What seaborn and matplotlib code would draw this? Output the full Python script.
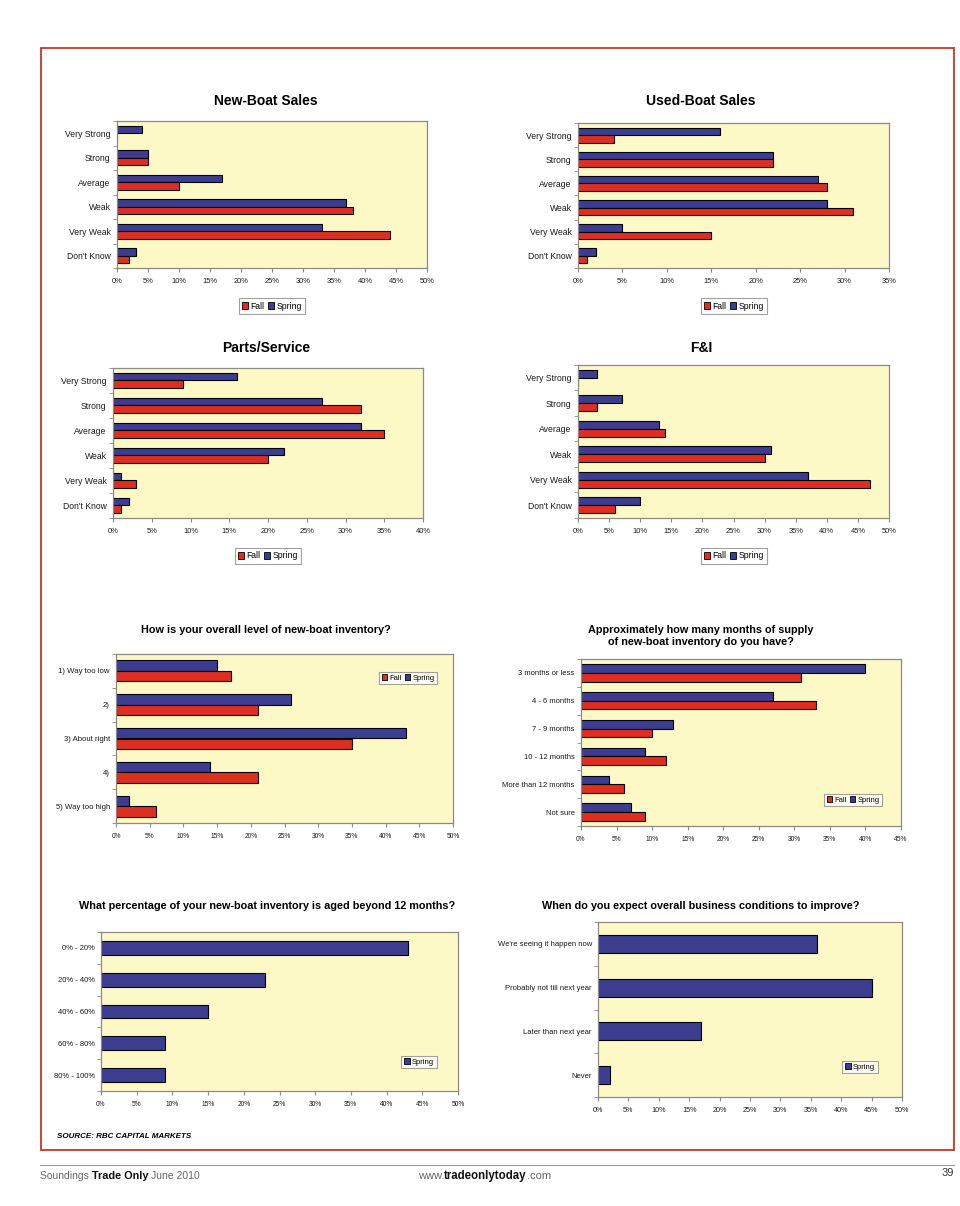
import numpy as np
import pandas as pd
import matplotlib.pyplot as plt
import seaborn as sns
from matplotlib.patches import Patch, Rectangle
from matplotlib.lines import Line2D

# ---- data ----
rating_cats = ["Very Strong", "Strong", "Average", "Weak", "Very Weak", "Don't Know"]

new_boat_spring = [4, 5, 17, 37, 33, 3]
new_boat_fall = [0, 5, 10, 38, 44, 2]

used_boat_spring = [16, 22, 27, 28, 5, 2]
used_boat_fall = [4, 22, 28, 31, 15, 1]

parts_spring = [16, 27, 32, 22, 1, 2]
parts_fall = [9, 32, 35, 20, 3, 1]

fi_spring = [3, 7, 13, 31, 37, 10]
fi_fall = [0, 3, 14, 30, 47, 6]

inv_level_cats = ["1) Way too low", "2)", "3) About right", "4)", "5) Way too high"]
inv_level_spring = [15, 26, 43, 14, 2]
inv_level_fall = [17, 21, 35, 21, 6]

supply_cats = ["3 months or less", "4 - 6 months", "7 - 9 months", "10 - 12 months",
               "More than 12 months", "Not sure"]
supply_spring = [40, 27, 13, 9, 4, 7]
supply_fall = [31, 33, 10, 12, 6, 9]

aged_cats = ["0% - 20%", "20% - 40%", "40% - 60%", "60% - 80%", "80% - 100%"]
aged_spring = [43, 23, 15, 9, 9]

improve_cats = ["We're seeing it happen now", "Probably not till next year",
                "Later than next year", "Never"]
improve_spring = [36, 45, 17, 2]

NAVY = "#3d3d8f"
RED = "#dd2e22"
PLOT_BG = "#fdf9c6"
SANS = ["Liberation Sans", "DejaVu Sans"]

W, H = 960, 1206
fig = plt.figure(figsize=(W / 100, H / 100), dpi=100)
fig.patch.set_facecolor("white")


def fx(x):
    return x / W


def fy(y):
    return 1 - y / H


def make_ax(x0, y0, x1, y1):
    return fig.add_axes([fx(x0), fy(y1), fx(x1) - fx(x0), (y1 - y0) / H])


def style_ax(ax, cats, xmax, ysize, xsize):
    ax.set_facecolor(PLOT_BG)
    for s in ax.spines.values():
        s.set_color("#8a8a8a")
        s.set_linewidth(0.9)
    ax.set_xlim(0, xmax)
    ticks = np.arange(0, xmax + 1, 5)
    ax.set_xticks(ticks)
    ax.set_xticklabels([f"{t}%" for t in ticks], family=SANS, fontsize=xsize, color="#1a1a1a")
    ax.set_yticks(range(len(cats)))
    ax.set_yticklabels(cats, family=SANS, fontsize=ysize, color="#1a1a1a")
    ax.set_yticks(np.arange(-0.5, len(cats), 1), minor=True)
    ax.tick_params(axis="y", which="major", length=0, pad=4.5)
    ax.tick_params(axis="y", which="minor", length=3, color="#8a8a8a")
    ax.tick_params(axis="x", length=3, color="#8a8a8a", pad=4)
    ax.set_xlabel("")
    ax.set_ylabel("")


def two_series(ax, cats, spring, fall, xmax, ysize=6.2, xsize=5.4):
    n = len(cats)
    df = pd.DataFrame({
        "cat": cats * 2,
        "val": spring + fall,
        "season": ["Spring"] * n + ["Fall"] * n,
    })
    sns.barplot(data=df, y="cat", x="val", hue="season", hue_order=["Spring", "Fall"],
                palette={"Spring": NAVY, "Fall": RED}, saturation=1, orient="h",
                width=0.62, edgecolor="black", linewidth=0.8, ax=ax, legend=False)
    style_ax(ax, cats, xmax, ysize, xsize)


def one_series(ax, cats, vals, xmax, width, ysize=5.5, xsize=4.8):
    sns.barplot(y=cats, x=vals, color=NAVY, saturation=1, orient="h", width=width,
                edgecolor="black", linewidth=0.8, ax=ax)
    style_ax(ax, cats, xmax, ysize, xsize)


def legend_at(ax, cx, cy, labels, size=6.2):
    cols = {"Fall": RED, "Spring": NAVY}
    handles = [Patch(facecolor=cols[l], edgecolor="black", linewidth=0.6) for l in labels]
    leg = ax.legend(handles, labels, loc="center", bbox_to_anchor=(fx(cx), fy(cy)),
                    bbox_transform=fig.transFigure, ncol=len(labels), fancybox=False,
                    frameon=True, handlelength=0.75, handleheight=0.75,
                    handletextpad=0.25, columnspacing=0.4, borderpad=0.35,
                    borderaxespad=0, prop={"family": SANS, "size": size})
    leg.get_frame().set_edgecolor("#8a8a8a")
    leg.get_frame().set_linewidth(0.8)
    leg.get_frame().set_facecolor("white")


def title_at(x, y, text, size):
    fig.text(fx(x), fy(y), text, ha="center", va="center", fontsize=size,
             fontweight="bold", family=SANS, linespacing=1.35)


# ---- row 1 ----
ax1 = make_ax(117, 121, 427, 268)
two_series(ax1, rating_cats, new_boat_spring, new_boat_fall, 50)
title_at(266, 101, "New-Boat Sales", 10)
legend_at(ax1, 272, 306, ["Fall", "Spring"])

ax2 = make_ax(578, 123, 889, 268)
two_series(ax2, rating_cats, used_boat_spring, used_boat_fall, 35)
title_at(701, 101, "Used-Boat Sales", 10)
legend_at(ax2, 734, 306, ["Fall", "Spring"])

# ---- row 2 ----
ax3 = make_ax(113, 368, 423, 518)
two_series(ax3, rating_cats, parts_spring, parts_fall, 40)
title_at(266, 348, "Parts/Service", 10)
legend_at(ax3, 268, 556, ["Fall", "Spring"])

ax4 = make_ax(578, 365, 889, 518)
two_series(ax4, rating_cats, fi_spring, fi_fall, 50)
title_at(701, 348, "F&I", 10)
legend_at(ax4, 734, 556, ["Fall", "Spring"])

# ---- row 3 ----
ax5 = make_ax(116, 654, 453, 823)
two_series(ax5, inv_level_cats, inv_level_spring, inv_level_fall, 50, ysize=5.6, xsize=4.8)
title_at(266, 630, "How is your overall level of new-boat inventory?", 7.8)
legend_at(ax5, 408, 678, ["Fall", "Spring"], size=5.5)

ax6 = make_ax(581, 659, 901, 826)
two_series(ax6, supply_cats, supply_spring, supply_fall, 45, ysize=5.5, xsize=4.8)
title_at(701, 636, "Approximately how many months of supply\nof new-boat inventory do you have?", 7.8)
legend_at(ax6, 853, 800, ["Fall", "Spring"], size=5.5)

# ---- row 4 ----
ax7 = make_ax(101, 932, 458, 1091)
one_series(ax7, aged_cats, aged_spring, 50, 0.43)
title_at(267, 906, "What percentage of your new-boat inventory is aged beyond 12 months?", 7.8)
legend_at(ax7, 419, 1062, ["Spring"], size=5.5)

ax8 = make_ax(598, 922, 902, 1097)
one_series(ax8, improve_cats, improve_spring, 50, 0.41, xsize=5.2)
title_at(701, 906, "When do you expect overall business conditions to improve?", 7.8)
legend_at(ax8, 860, 1067, ["Spring"], size=5.5)

# ---- page furniture ----
fig.text(fx(57), fy(1137), "SOURCE: RBC CAPITAL MARKETS", ha="left", va="center",
         fontsize=5.8, fontweight="bold", fontstyle="italic", family=SANS)

fig.patches.append(Rectangle((fx(41), fy(1150)), fx(954) - fx(41), (1150 - 48) / H,
                             transform=fig.transFigure, fill=False,
                             edgecolor="#c0392b", linewidth=1.3))
fig.lines.append(Line2D([fx(40), fx(954)], [fy(1165), fy(1165)],
                        transform=fig.transFigure, color="#9a9a9a", linewidth=0.8))

renderer = fig.canvas.get_renderer()


def chain(x, y, parts):
    # lay text pieces side by side, each one after the previous one's extent
    for txt, size, weight, color in parts:
        t = fig.text(fx(x), fy(y), txt, ha="left", va="center", fontsize=size,
                     fontweight=weight, color=color, family=SANS)
        bb = t.get_window_extent(renderer)
        x += bb.width


chain(40, 1176, [("Soundings ", 7.5, "normal", "#666666"),
                 ("Trade Only ", 7.8, "bold", "#111111"),
                 ("June 2010", 7.5, "normal", "#666666")])
chain(418, 1176, [("www.", 8, "normal", "#666666"),
                  ("tradeonlytoday", 8.3, "bold", "#111111"),
                  (".com", 8, "normal", "#666666")])
fig.text(fx(954), fy(1173), "39", ha="right", va="center", fontsize=8,
         color="#333333", family=SANS)

fig.savefig("out.png", dpi=100, facecolor="white")
